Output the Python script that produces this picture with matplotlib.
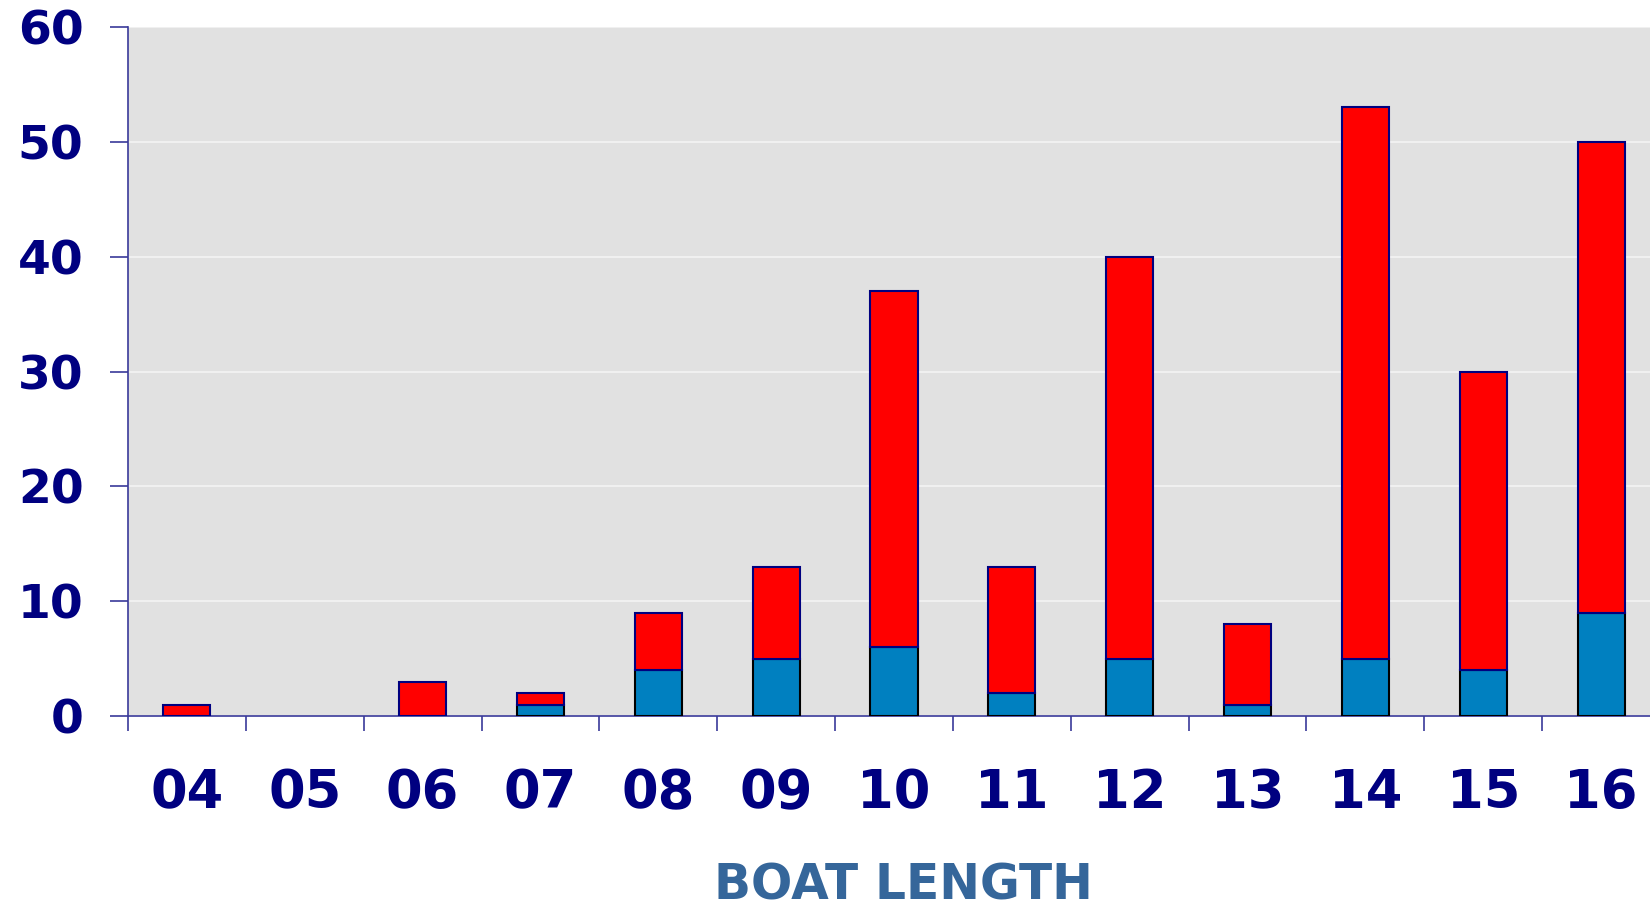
import numpy as np
import matplotlib
matplotlib.use('Agg')
import matplotlib.pyplot as plt

# datos
lengths = ['04', '05', '06', '07', '08', '09', '10', '11', '12', '13', '14', '15', '16']
blue_vals = [0, 0, 0, 1, 4, 5, 6, 2, 5, 1, 5, 4, 9]
red_vals = [1, 0, 3, 1, 5, 8, 31, 11, 35, 7, 48, 26, 41]
y_ticks = [0, 10, 20, 30, 40, 50, 60]

navy = '#000080'
axis_col = '#3a3a9a'

fig = plt.figure(figsize=(16.5, 9.08), dpi=100)
ax = fig.add_axes([128 / 1650, 192 / 908, 1532 / 1650, 689 / 908])
ax.set_facecolor('#e1e1e1')

x = np.arange(len(lengths))
# sin borde cuando el valor es cero
lw_blue = [1.5 if v > 0 else 0 for v in blue_vals]
lw_red = [1.5 if v > 0 else 0 for v in red_vals]
ax.bar(x, blue_vals, width=0.4, color='#0080c0', edgecolor='black', linewidth=lw_blue, zorder=3)
ax.bar(x, red_vals, width=0.4, bottom=blue_vals, color='#ff0000', edgecolor=navy, linewidth=lw_red, zorder=3)

ax.set_xlim(-0.5, len(lengths) - 0.5)
ax.set_ylim(0, 60)

ax.set_yticks(y_ticks)
ax.set_yticklabels([str(v) for v in y_ticks], fontsize=34, fontweight='bold', color=navy)
ax.tick_params(axis='y', length=13, width=1.2, color=axis_col, pad=19)

ax.set_xticks(x)
ax.set_xticklabels(lengths, fontsize=38, fontweight='bold', color=navy)
ax.tick_params(axis='x', which='major', length=0, pad=37)
ax.set_xticks(np.arange(len(lengths)) - 0.5, minor=True)
ax.tick_params(axis='x', which='minor', length=11, width=1.2, color=axis_col)

ax.yaxis.grid(True, color='#f4f4f4', linewidth=1.2, zorder=0)
ax.set_axisbelow(True)

for s in ['top', 'right']:
    ax.spines[s].set_visible(False)
for s in ['left', 'bottom']:
    ax.spines[s].set_color(axis_col)
    ax.spines[s].set_linewidth(1.2)

fig.text(903 / 1650, 9 / 908, 'BOAT LENGTH', ha='center', va='baseline',
         fontsize=35, fontweight='bold', color='#35669a')

plt.savefig('out.png', dpi=100)
